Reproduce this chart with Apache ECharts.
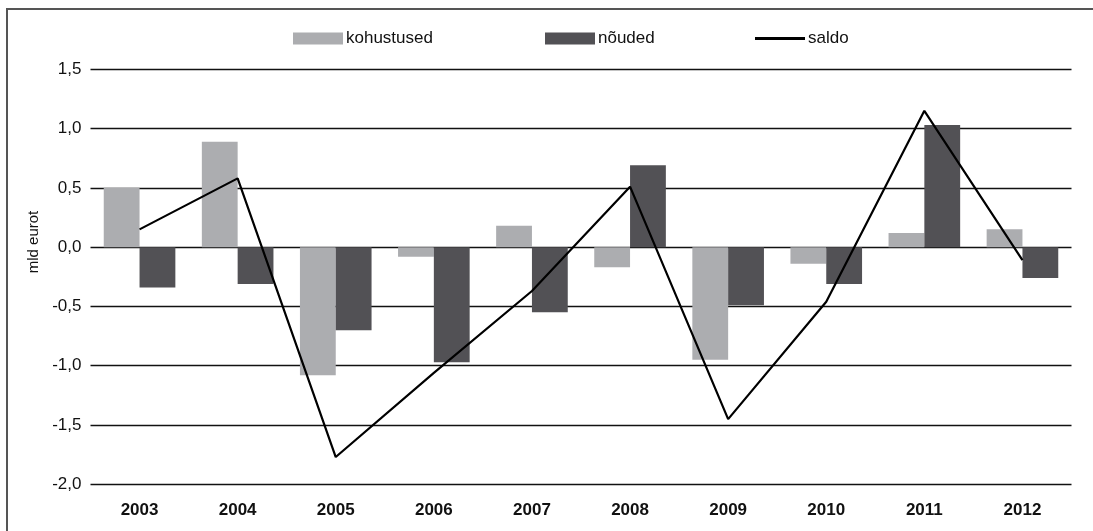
<!DOCTYPE html>
<html>
<head>
<meta charset="utf-8">
<script src="https://cdn.jsdelivr.net/npm/echarts@6/dist/echarts.min.js"></script>
<style>
  html, body { margin: 0; padding: 0; background: #fff; }
  #chart { width: 1093px; height: 531px; }
</style>
</head>
<body>
<div id="chart"></div>
<script>
  // aastad
  var years = ['2003', '2004', '2005', '2006', '2007', '2008', '2009', '2010', '2011', '2012'];
  // mld eurot
  var kohustused = [0.50, 0.89, -1.08, -0.08, 0.18, -0.17, -0.95, -0.14, 0.12, 0.15];
  var nouded = [-0.34, -0.31, -0.70, -0.97, -0.55, 0.69, -0.49, -0.31, 1.03, -0.26];
  var saldo = [0.15, 0.58, -1.77, -1.06, -0.37, 0.51, -1.45, -0.46, 1.15, -0.11];

  var font = 'Liberation Sans, Arial, sans-serif';
  var myChart = echarts.init(document.getElementById('chart'));

  var legendText = { fontFamily: font, fontSize: 17, color: '#111', padding: [0, 0, 0, -2] };

  myChart.setOption({
    animation: false,
    color: ['#acadb0', '#525155', '#000'],
    graphic: [
      {
        type: 'rect',
        shape: { x: 7, y: 9, width: 1200, height: 600 },
        style: { fill: 'none', stroke: '#555', lineWidth: 2 },
        silent: true
      },
      {
        type: 'text',
        x: 34, y: 242,
        rotation: Math.PI / 2,
        style: {
          text: 'mld eurot', fontFamily: font, fontSize: 15, fill: '#111',
          align: 'center', verticalAlign: 'middle'
        }
      }
    ],
    legend: [
      {
        data: ['kohustused'], left: 288, top: 25, icon: 'rect',
        itemWidth: 50, itemHeight: 12, itemGap: 0, textStyle: legendText
      },
      {
        data: ['nõuded'], left: 540, top: 25, icon: 'rect',
        itemWidth: 50, itemHeight: 12, itemGap: 0, textStyle: legendText
      },
      {
        data: ['saldo'], left: 750, top: 25, icon: 'rect',
        itemWidth: 50, itemHeight: 3, itemGap: 0, textStyle: legendText
      }
    ],
    grid: {
      left: 90.5,
      right: 21.5,
      top: 69.3,
      bottom: 46.7,
      containLabel: false
    },
    xAxis: {
      type: 'category',
      data: years,
      axisTick: { show: false },
      axisLine: { show: false },
      axisLabel: {
        margin: 18,
        fontFamily: font, fontSize: 17, fontWeight: 'bold', color: '#111'
      }
    },
    yAxis: {
      type: 'value',
      min: -2,
      max: 1.5,
      interval: 0.5,
      axisLine: { show: false },
      axisTick: { show: false },
      axisLabel: {
        margin: 9,
        fontFamily: font, fontSize: 17, color: '#111',
        formatter: function (v) { return v.toFixed(1).replace('.', ','); }
      },
      splitLine: { lineStyle: { color: '#111', width: 1.3 } }
    },
    series: [
      {
        name: 'kohustused',
        type: 'bar',
        data: kohustused,
        barGap: 0,
        barCategoryGap: '27%',
        itemStyle: { color: '#acadb0' }
      },
      {
        name: 'nõuded',
        type: 'bar',
        data: nouded,
        barGap: 0,
        barCategoryGap: '27%',
        itemStyle: { color: '#525155' }
      },
      {
        name: 'saldo',
        type: 'line',
        data: saldo,
        symbol: 'none',
        z: 5,
        itemStyle: { color: '#000' },
        lineStyle: { color: '#000', width: 2.2 }
      }
    ]
  });
  window.addEventListener('resize', function () {
    myChart.resize();
  });
</script>
</body>
</html>
